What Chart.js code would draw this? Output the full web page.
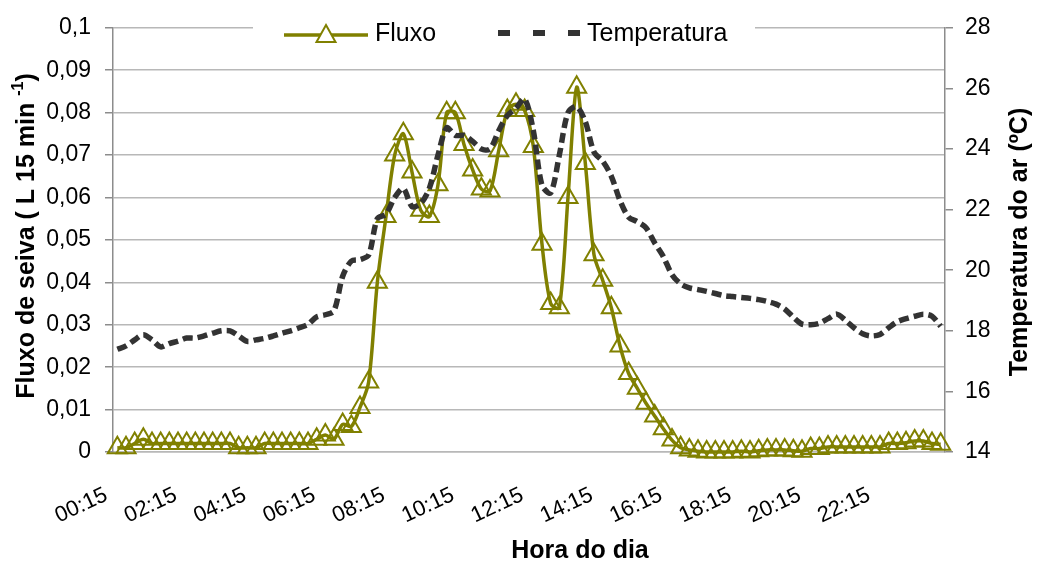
<!DOCTYPE html>
<html>
<head>
<meta charset="utf-8">
<script src="https://cdn.jsdelivr.net/npm/chart.js@4/dist/chart.umd.min.js"></script>
<style>
  body { margin: 0; background: #fff; }
  #wrap { width: 1038px; height: 566px; }
</style>
</head>
<body>
<div id="wrap"><canvas id="chart" width="1038" height="566"></canvas></div>
<script>
// ============ Data ============
const horas = [
  '00:15','00:30','00:45','01:00','01:15','01:30','01:45','02:00',
  '02:15','02:30','02:45','03:00','03:15','03:30','03:45','04:00',
  '04:15','04:30','04:45','05:00','05:15','05:30','05:45','06:00',
  '06:15','06:30','06:45','07:00','07:15','07:30','07:45','08:00',
  '08:15','08:30','08:45','09:00','09:15','09:30','09:45','10:00',
  '10:15','10:30','10:45','11:00','11:15','11:30','11:45','12:00',
  '12:15','12:30','12:45','13:00','13:15','13:30','13:45','14:00',
  '14:15','14:30','14:45','15:00','15:15','15:30','15:45','16:00',
  '16:15','16:30','16:45','17:00','17:15','17:30','17:45','18:00',
  '18:15','18:30','18:45','19:00','19:15','19:30','19:45','20:00',
  '20:15','20:30','20:45','21:00','21:15','21:30','21:45','22:00',
  '22:15','22:30','22:45','23:00','23:15','23:30','23:45','24:00'
];

// Fluxo de seiva (L 15 min-1)
const fluxo = [
  0.001, 0.001, 0.002, 0.003, 0.002, 0.002, 0.002, 0.002,
  0.002, 0.002, 0.002, 0.002, 0.002, 0.002, 0.001, 0.001,
  0.001, 0.002, 0.002, 0.002, 0.002, 0.002, 0.002, 0.003,
  0.004, 0.003, 0.0065, 0.006, 0.0105, 0.0165, 0.040, 0.0555,
  0.070, 0.075, 0.066, 0.057, 0.0555, 0.063, 0.080, 0.080,
  0.0725, 0.0665, 0.062, 0.0615, 0.071, 0.0805, 0.082, 0.0805,
  0.072, 0.049, 0.035, 0.034, 0.060, 0.086, 0.068, 0.0465,
  0.0405, 0.034, 0.025, 0.0185, 0.015, 0.0115, 0.0085, 0.0055,
  0.0028, 0.001, 0.0005, 0.0002, 0, 0, 0, 0,
  0.0002, 0, 0.0003, 0.0005, 0.0005, 0.0005, 0.0003, 0.0002,
  0.0008, 0.0008, 0.0012, 0.0012, 0.0012, 0.0012, 0.0012, 0.0012,
  0.0012, 0.002, 0.002, 0.0022, 0.0026, 0.0026, 0.002, 0.0018
];

// Temperatura do ar (ºC)
const temperatura = [
  17.39, 17.5, 17.7, 17.87, 17.7, 17.47, 17.58, 17.66,
  17.76, 17.76, 17.83, 17.92, 18.0, 18.0, 17.83, 17.65,
  17.7, 17.75, 17.83, 17.92, 18.0, 18.1, 18.21, 18.46,
  18.53, 18.66, 19.8, 20.3, 20.35, 20.5, 21.7, 21.85,
  22.4, 22.7, 22.1, 22.2, 22.7, 23.8, 24.7, 24.45,
  24.45, 24.25, 24.0, 24.0, 24.6, 25.1, 25.35, 25.65,
  24.6, 22.8, 22.55, 23.8, 25.2, 25.4, 24.9, 23.9,
  23.6, 23.1, 22.3, 21.75, 21.6, 21.4, 20.9, 20.45,
  19.85, 19.55, 19.42, 19.36, 19.3, 19.23, 19.16, 19.13,
  19.1, 19.07, 19.03, 18.97, 18.88, 18.72, 18.45, 18.22,
  18.2, 18.25, 18.4, 18.55, 18.35, 18.1, 17.9, 17.83,
  17.88, 18.1, 18.3, 18.4, 18.48, 18.55, 18.48, 18.15
];

const OLIVE = '#808000';
const DARK = '#333333';
const GRID = '#b8b8b8';
const AXIS = '#8c8c8c';
const FONT = '"Liberation Sans", Arial, sans-serif';

// ============ Titles + legend (drawn by hand) ============
const decorPlugin = {
  id: 'decor',
  afterDraw(chart) {
    const ctx = chart.ctx;
    ctx.save();

    // legend box over the top gridline
    ctx.fillStyle = '#fff';
    ctx.fillRect(253, 18, 502, 30);

    ctx.strokeStyle = OLIVE;
    ctx.lineWidth = 3.5;
    ctx.beginPath();
    ctx.moveTo(284, 35);
    ctx.lineTo(368, 35);
    ctx.stroke();
    ctx.lineWidth = 2;
    ctx.fillStyle = '#fff';
    ctx.beginPath();
    ctx.moveTo(326, 25);
    ctx.lineTo(335.5, 42);
    ctx.lineTo(316.5, 42);
    ctx.closePath();
    ctx.fill();
    ctx.stroke();

    ctx.strokeStyle = DARK;
    ctx.lineWidth = 6;
    ctx.setLineDash([12, 23]);
    ctx.beginPath();
    ctx.moveTo(498, 33);
    ctx.lineTo(581, 33);
    ctx.stroke();
    ctx.setLineDash([]);

    ctx.fillStyle = '#000';
    ctx.font = '25px ' + FONT;
    ctx.textBaseline = 'middle';
    ctx.textAlign = 'left';
    ctx.fillText('Fluxo', 375, 34);
    ctx.fillText('Temperatura', 587, 34);

    // left axis title with superscript
    ctx.save();
    ctx.translate(27, 236);
    ctx.rotate(-Math.PI / 2);
    const bold = 'bold 25px ' + FONT;
    const sup = 'bold 16px ' + FONT;
    const t1 = 'Fluxo de seiva ( L 15 min ';
    const t2 = '-1';
    const t3 = ')';
    ctx.font = bold;
    const w1 = ctx.measureText(t1).width;
    const w3 = ctx.measureText(t3).width;
    ctx.font = sup;
    const w2 = ctx.measureText(t2).width;
    let x = -(w1 + w2 + w3) / 2;
    ctx.textAlign = 'left';
    ctx.font = bold;
    ctx.fillText(t1, x, 0);
    ctx.font = sup;
    ctx.fillText(t2, x + w1, -8);
    ctx.font = bold;
    ctx.fillText(t3, x + w1 + w2, 0);
    ctx.restore();

    // right axis title (reads bottom to top)
    ctx.save();
    ctx.translate(1020, 242);
    ctx.rotate(-Math.PI / 2);
    ctx.font = bold;
    ctx.textAlign = 'center';
    ctx.fillText('Temperatura do ar (ºC)', 0, 0);
    ctx.restore();

    // x axis title
    ctx.font = bold;
    ctx.textAlign = 'center';
    ctx.fillText('Hora do dia', 580, 551);

    ctx.restore();
  }
};

function fmtFluxo(v) {
  if (Math.abs(v) < 1e-9) return '0';
  return v.toFixed(2).replace(/0$/, '').replace('.', ',');
}

// ============ Chart ============
new Chart(document.getElementById('chart'), {
  type: 'line',
  data: {
    labels: horas,
    datasets: [
      {
        label: 'Fluxo',
        data: fluxo,
        yAxisID: 'y',
        borderColor: OLIVE,
        borderWidth: 3.5,
        pointStyle: 'triangle',
        pointRadius: 11,
        pointBorderWidth: 2,
        pointBorderColor: OLIVE,
        pointBackgroundColor: 'rgba(0,0,0,0)',
        tension: 0.3,
        clip: false,
        order: 1
      },
      {
        label: 'Temperatura',
        data: temperatura,
        yAxisID: 'y1',
        borderColor: DARK,
        borderWidth: 5.5,
        borderDash: [10, 5],
        pointRadius: 0,
        tension: 0.3,
        order: 0
      }
    ]
  },
  options: {
    responsive: false,
    devicePixelRatio: 1,
    animation: false,
    layout: { padding: { top: 24, left: 0, right: 0, bottom: 0 } },
    plugins: {
      legend: { display: false },
      tooltip: { enabled: false }
    },
    scales: {
      x: {
        offset: true,
        grid: { display: false, drawTicks: false },
        border: { display: true, color: GRID, width: 1.5 },
        ticks: {
          autoSkip: false,
          minRotation: 25,
          maxRotation: 25,
          padding: 30,
          labelOffset: -11,
          color: '#000',
          font: { family: FONT, size: 22 },
          callback: (val, idx) => (idx % 8 === 0 ? horas[idx] : '')
        },
        afterFit: (scale) => { scale.height = 114; }
      },
      y: {
        position: 'left',
        min: 0,
        max: 0.1,
        ticks: {
          stepSize: 0.01,
          padding: 14,
          color: '#000',
          font: { family: FONT, size: 23 },
          callback: (v) => fmtFluxo(v)
        },
        grid: { color: GRID, lineWidth: 1.5, tickLength: 8, tickColor: AXIS },
        border: { display: true, color: AXIS, width: 1.5 },
        afterFit: (scale) => { scale.width = 113; }
      },
      y1: {
        position: 'right',
        min: 14,
        max: 28,
        ticks: {
          stepSize: 2,
          padding: 12,
          color: '#000',
          font: { family: FONT, size: 23 }
        },
        grid: { drawOnChartArea: false, tickLength: 8, tickColor: AXIS, lineWidth: 1.5 },
        border: { display: true, color: AXIS, width: 1.5 },
        afterFit: (scale) => { scale.width = 93; }
      }
    }
  },
  plugins: [decorPlugin]
});
</script>
</body>
</html>
